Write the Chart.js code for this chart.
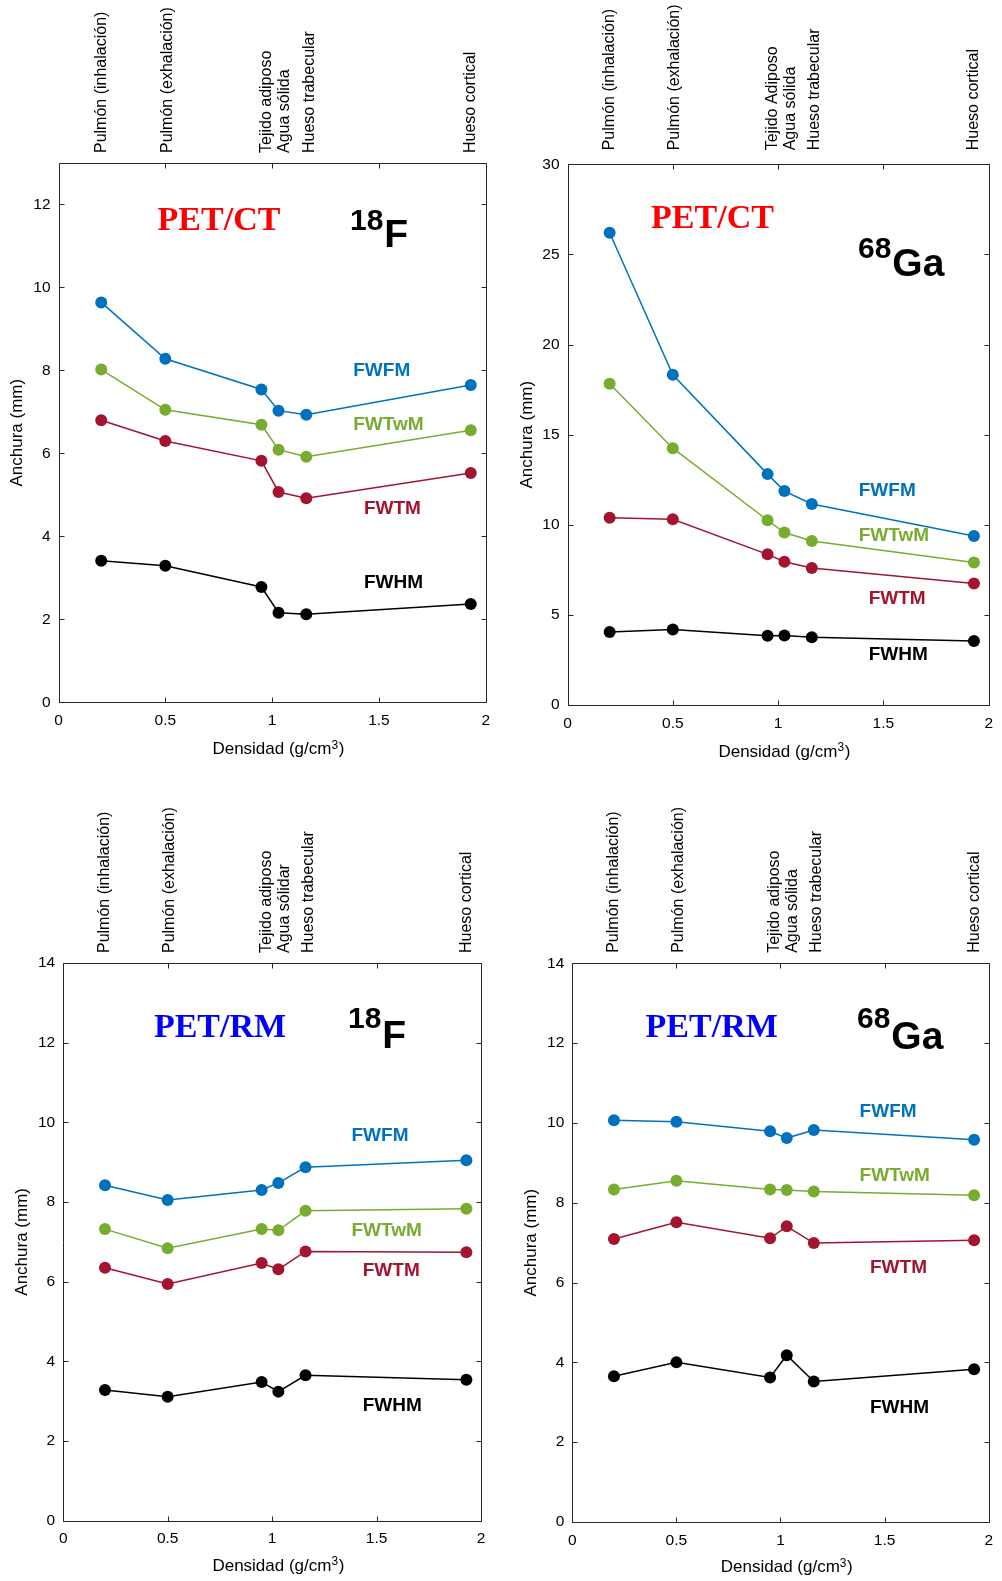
<!DOCTYPE html>
<html><head><meta charset="utf-8">
<script src="https://cdn.jsdelivr.net/npm/chart.js@4/dist/chart.umd.min.js"></script>
<style>
html,body{margin:0;padding:0;background:#fff;}
body{width:1002px;height:1581px;position:relative;overflow:hidden;}
canvas{position:absolute;}
</style></head><body>
<canvas id="c1" width="501" height="780" style="left:0px;top:0px"></canvas>
<canvas id="c2" width="501" height="780" style="left:501px;top:0px"></canvas>
<canvas id="c3" width="501" height="801" style="left:0px;top:780px"></canvas>
<canvas id="c4" width="501" height="801" style="left:501px;top:780px"></canvas>
<script>
// ---------- DATA ----------
const density = [0.2, 0.5, 0.95, 1.03, 1.16, 1.93];
const seriesNames = ['FWFM', 'FWTwM', 'FWTM', 'FWHM'];

// PET/CT 18F
const ctF18_FWFM  = [9.64, 8.28, 7.54, 7.03, 6.93, 7.65];
const ctF18_FWTwM = [8.02, 7.05, 6.69, 6.09, 5.92, 6.56];
const ctF18_FWTM  = [6.80, 6.30, 5.82, 5.07, 4.92, 5.53];
const ctF18_FWHM  = [3.41, 3.29, 2.78, 2.16, 2.12, 2.37];
// PET/CT 68Ga
const ctGa68_FWFM  = [26.2, 18.32, 12.81, 11.87, 11.15, 9.38];
const ctGa68_FWTwM = [17.82, 14.25, 10.25, 9.57, 9.10, 7.91];
const ctGa68_FWTM  = [10.39, 10.31, 8.36, 7.95, 7.60, 6.74];
const ctGa68_FWHM  = [4.05, 4.19, 3.84, 3.86, 3.76, 3.55];
// PET/RM 18F
const rmF18_FWFM  = [8.42, 8.05, 8.30, 8.48, 8.87, 9.05];
const rmF18_FWTwM = [7.32, 6.84, 7.32, 7.29, 7.78, 7.83];
const rmF18_FWTM  = [6.35, 5.94, 6.47, 6.31, 6.76, 6.74];
const rmF18_FWHM  = [3.28, 3.11, 3.48, 3.24, 3.65, 3.54];
// PET/RM 68Ga
const rmGa68_FWFM  = [10.07, 10.03, 9.79, 9.62, 9.82, 9.58];
const rmGa68_FWTwM = [8.33, 8.55, 8.33, 8.32, 8.28, 8.19];
const rmGa68_FWTM  = [7.09, 7.51, 7.11, 7.41, 6.99, 7.06];
const rmGa68_FWHM  = [3.65, 4.00, 3.62, 4.18, 3.52, 3.83];

// Tissue labels (top axis)
const tissuesCT18 = ['Pulmón (inhalación)', 'Pulmón (exhalación)', 'Tejido adiposo', 'Agua sólida', 'Hueso trabecular', 'Hueso cortical'];
const tissuesCT68 = ['Pulmón (inhalación)', 'Pulmón (exhalación)', 'Tejido Adiposo', 'Agua sólida', 'Hueso trabecular', 'Hueso cortical'];
const tissuesRM18 = ['Pulmón (inhalación)', 'Pulmón (exhalación)', 'Tejido adiposo', 'Agua sólidar', 'Hueso trabecular', 'Hueso cortical'];
const tissuesRM68 = ['Pulmón (inhalación)', 'Pulmón (exhalación)', 'Tejido adiposo', 'Agua sólida', 'Hueso trabecular', 'Hueso cortical'];

const xTickStep = 0.5;
const xTitleMain = 'Densidad (g/cm';
const xTitleSup = '3';
const xTitleEnd = ')';
const yTitle = 'Anchura (mm)';

// ---------- STYLE ----------
const colors = ['#0072BD', '#77AC30', '#A2142F', '#000000'];
const axisColor = '#262626';
const SANS = "'Liberation Sans', Arial, sans-serif";
const SERIF = "'Liberation Serif', 'Times New Roman', serif";
const tissueNudge = [0, 2, 5, 6, 3, 0];

function makeAnnot(cfg) {
  return {
    id: 'annot' + cfg.id,
    afterDraw(chart) {
      const {ctx, chartArea: a, scales: {x, y}} = chart;
      ctx.save();
      // box
      ctx.strokeStyle = axisColor; ctx.lineWidth = 1;
      const l = Math.round(a.left) + 0.5, t = Math.round(a.top) + 0.5;
      const r = Math.round(a.right) + 0.5, b = Math.round(a.bottom) + 0.5;
      ctx.beginPath();
      ctx.rect(l, t, r - l, b - t);
      const L = 5;
      y.ticks.forEach(tk => {
        const py = Math.round(y.getPixelForValue(tk.value)) + 0.5;
        ctx.moveTo(l, py); ctx.lineTo(l + L, py);
        ctx.moveTo(r, py); ctx.lineTo(r - L, py);
      });
      x.ticks.forEach(tk => {
        const px = Math.round(x.getPixelForValue(tk.value)) + 0.5;
        ctx.moveTo(px, b); ctx.lineTo(px, b - L);
        ctx.moveTo(px, t); ctx.lineTo(px, t + L);
      });
      ctx.stroke();

      // x-axis title with superscript
      ctx.fillStyle = '#000';
      ctx.textAlign = 'left'; ctx.textBaseline = 'alphabetic';
      const fMain = '17px ' + SANS, fSup = '12px ' + SANS;
      ctx.font = fMain;
      const w1 = ctx.measureText(xTitleMain).width, w3 = ctx.measureText(xTitleEnd).width;
      ctx.font = fSup;
      const w2 = ctx.measureText(xTitleSup).width;
      const tw = w1 + w2 + w3;
      const tx = (a.left + a.right) / 2 + 6 - tw / 2;
      const ty = a.bottom + cfg.xTitleGap;
      ctx.font = fMain; ctx.fillText(xTitleMain, tx, ty);
      ctx.font = fSup; ctx.fillText(xTitleSup, tx + w1, ty - 5.5);
      ctx.font = fMain; ctx.fillText(xTitleEnd, tx + w1 + w2 + 0.5, ty);

      // tissue labels on top
      ctx.fillStyle = '#000';
      ctx.font = '16px ' + SANS;
      ctx.textAlign = 'left'; ctx.textBaseline = 'middle';
      cfg.tissues.forEach((txt, i) => {
        const px = x.getPixelForValue(density[i]) + tissueNudge[i];
        ctx.save();
        ctx.translate(px, a.top - cfg.topGap);
        ctx.rotate(-Math.PI / 2);
        ctx.fillText(txt, 0, 0);
        ctx.restore();
      });

      // series labels
      ctx.font = 'bold 19px ' + SANS;
      ctx.textAlign = 'left'; ctx.textBaseline = 'middle';
      cfg.labelPos.forEach((p, i) => {
        ctx.fillStyle = colors[i];
        ctx.fillText(seriesNames[i], x.getPixelForValue(p[0]), y.getPixelForValue(p[1]));
      });

      // modality title
      ctx.font = 'bold 34px ' + SERIF;
      ctx.fillStyle = cfg.titleColor;
      ctx.textAlign = 'center'; ctx.textBaseline = 'alphabetic';
      ctx.fillText(cfg.title, a.left + cfg.titlePos[0], a.top + cfg.titlePos[1]);

      // isotope
      ctx.fillStyle = '#000';
      ctx.textAlign = 'left';
      ctx.font = 'bold 30px ' + SANS;
      const ix = a.left + cfg.isoPos[0];
      ctx.fillText(cfg.isoMass, ix, a.top + cfg.isoPos[1]);
      const w = ctx.measureText(cfg.isoMass).width;
      ctx.font = 'bold 39px ' + SANS;
      ctx.fillText(cfg.isoSym, ix + w + 1, a.top + cfg.isoPos[2]);
      ctx.restore();
    }
  };
}

function makeChart(cfg) {
  const datasets = cfg.series.map((vals, i) => ({
    label: seriesNames[i],
    data: density.map((d, j) => ({x: d, y: vals[j]})),
    borderColor: colors[i],
    backgroundColor: colors[i],
    pointBackgroundColor: colors[i],
    pointBorderWidth: 0,
    pointRadius: 6,
    pointHoverRadius: 6,
    borderWidth: 1.5,
    tension: 0,
    clip: false
  }));
  new Chart(document.getElementById(cfg.id), {
    type: 'line',
    data: {datasets},
    plugins: [makeAnnot(cfg)],
    options: {
      responsive: false,
      devicePixelRatio: 1,
      animation: false,
      events: [],
      layout: {padding: {left: 0, top: cfg.area.top, right: cfg.area.right, bottom: 0}},
      plugins: {legend: {display: false}, tooltip: {enabled: false}},
      scales: {
        x: {
          type: 'linear', min: 0, max: 2,
          grid: {display: false, drawTicks: false}, border: {display: false},
          ticks: {stepSize: xTickStep, padding: 9, color: '#000', font: {family: SANS, size: 15.5},
                  callback: v => String(+(+v).toFixed(2))},
          title: {display: false},
          afterFit: s => { s.height = cfg.area.xh; }
        },
        y: {
          type: 'linear', min: 0, max: cfg.yMax,
          grid: {display: false, drawTicks: false}, border: {display: false},
          ticks: {stepSize: cfg.yStep, includeBounds: false, padding: 8, color: '#000', font: {family: SANS, size: 15.5}},
          title: {display: true, text: yTitle, color: '#000', font: {family: SANS, size: 17},
                  padding: {top: cfg.yTitlePad, bottom: 0}},
          afterFit: s => { s.width = cfg.area.yw; }
        }
      }
    }
  });
}

makeChart({
  id: 'c1', series: [ctF18_FWFM, ctF18_FWTwM, ctF18_FWTM, ctF18_FWHM],
  yMax: 13, yStep: 2, tissues: tissuesCT18, topGap: 10,
  area: {top: 163, right: 501 - 485.7, yw: 58.5, xh: 780 - 702.3},
  xTitleGap: 52, yTitlePad: 6.8,
  labelPos: [[1.38, 7.98], [1.38, 6.68], [1.43, 4.67], [1.43, 2.89]],
  title: 'PET/CT', titleColor: '#FF0000', titlePos: [160.5, 67],
  isoMass: '18', isoSym: 'F', isoPos: [291.5, 67, 84]
});
makeChart({
  id: 'c2', series: [ctGa68_FWFM, ctGa68_FWTwM, ctGa68_FWTM, ctGa68_FWHM],
  yMax: 30, yStep: 5, tissues: tissuesCT68, topGap: 14,
  area: {top: 164.3, right: 501 - 494.3, yw: 66.5, xh: 780 - 705},
  xTitleGap: 51.6, yTitlePad: 16.3,
  labelPos: [[1.383, 11.9], [1.383, 9.38], [1.43, 5.91], [1.43, 2.79]],
  title: 'PET/CT', titleColor: '#FF0000', titlePos: [145, 64],
  isoMass: '68', isoSym: 'Ga', isoPos: [290.5, 93.7, 112]
});
makeChart({
  id: 'c3', series: [rmF18_FWFM, rmF18_FWTwM, rmF18_FWTM, rmF18_FWHM],
  yMax: 14, yStep: 2, tissues: tissuesRM18, topGap: 10,
  area: {top: 183, right: 501 - 481, yw: 63.2, xh: 801 - 740.7},
  xTitleGap: 50, yTitlePad: 12,
  labelPos: [[1.38, 9.67], [1.38, 7.27], [1.434, 6.27], [1.434, 2.88]],
  title: 'PET/RM', titleColor: '#0000FF', titlePos: [156.8, 73.7],
  isoMass: '18', isoSym: 'F', isoPos: [284.8, 64.7, 85.3]
});
makeChart({
  id: 'c4', series: [rmGa68_FWFM, rmGa68_FWTwM, rmGa68_FWTM, rmGa68_FWHM],
  yMax: 14, yStep: 2, tissues: tissuesRM68, topGap: 10.5,
  area: {top: 183.3, right: 501 - 489.2, yw: 71.3, xh: 801 - 742},
  xTitleGap: 50, yTitlePad: 20,
  labelPos: [[1.38, 10.28], [1.38, 8.67], [1.43, 6.37], [1.43, 2.85]],
  title: 'PET/RM', titleColor: '#0000FF', titlePos: [139.4, 73.4],
  isoMass: '68', isoSym: 'Ga', isoPos: [284.7, 64.7, 86]
});
</script>
</body></html>
